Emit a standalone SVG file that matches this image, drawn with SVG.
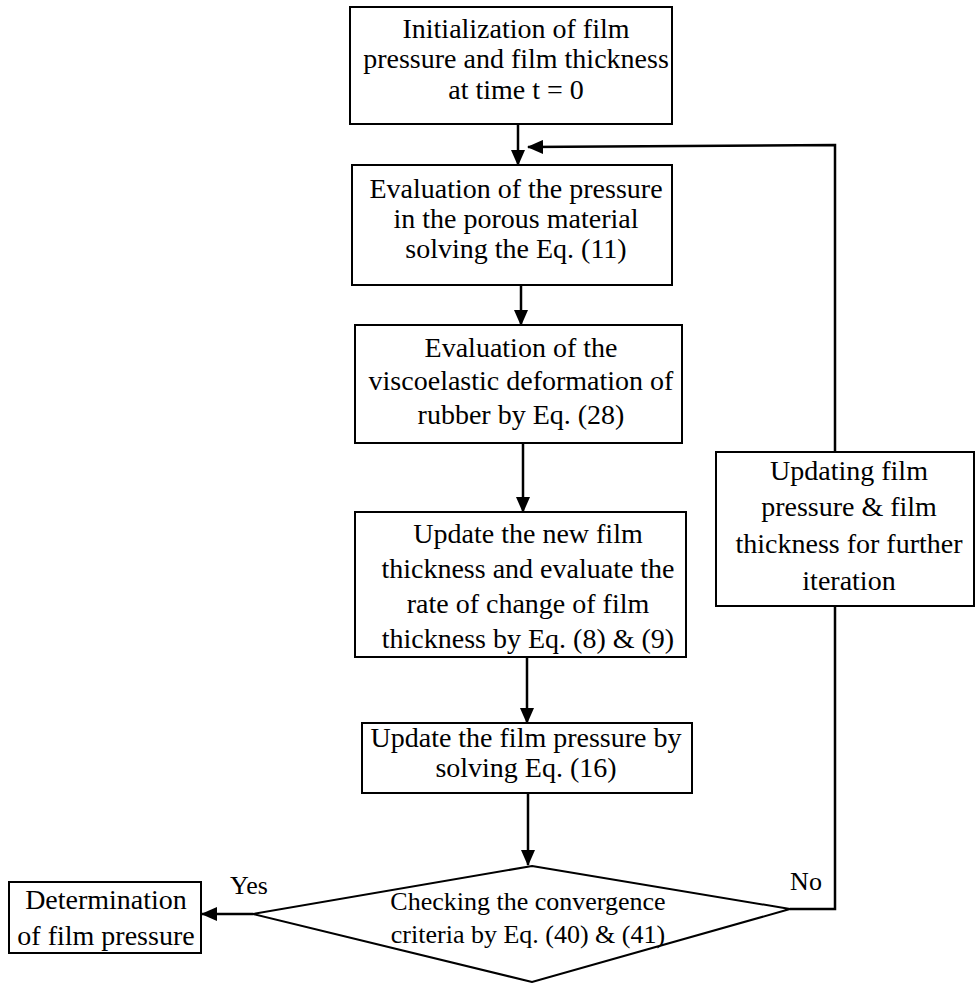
<svg xmlns="http://www.w3.org/2000/svg" width="975" height="983" viewBox="0 0 975 983">
<style>
  .box{fill:#fff;stroke:#000;stroke-width:2}
  .t{font-family:"Liberation Serif","Times New Roman",serif;font-size:28px;fill:#000;text-anchor:middle}
  .s{font-family:"Liberation Serif","Times New Roman",serif;font-size:26px;fill:#000;text-anchor:middle}
  .c{fill:none;stroke:#000;stroke-width:2.5}
</style>
<defs>
  <marker id="ah" viewBox="0 0 16 14" refX="15" refY="7" markerWidth="16" markerHeight="14" markerUnits="userSpaceOnUse" orient="auto">
    <path d="M0,0 L16,7 L0,14 z" fill="#000"/>
  </marker>
</defs>
<rect width="975" height="983" fill="#fff"/>
<g id="connectors">
  <line class="c" x1="518" y1="124" x2="518" y2="165" marker-end="url(#ah)"/>
  <line class="c" x1="521" y1="285" x2="521" y2="325" marker-end="url(#ah)"/>
  <line class="c" x1="523" y1="443" x2="523" y2="512" marker-end="url(#ah)"/>
  <line class="c" x1="527" y1="657" x2="527" y2="723" marker-end="url(#ah)"/>
  <line class="c" x1="528" y1="793" x2="528" y2="865" marker-end="url(#ah)"/>
  <line class="c" x1="253" y1="914" x2="202" y2="914" marker-end="url(#ah)"/>
  <polyline class="c" points="790,909 835,909 835,606"/>
  <polyline class="c" points="835,452 835,145 528,147" marker-end="url(#ah)"/>
</g>
<g id="n1">
  <rect class="box" x="350" y="7" width="322" height="117"/>
  <text class="t" x="516" y="38">Initialization of film</text>
  <text class="t" x="516" y="68">pressure and film thickness</text>
  <text class="t" x="516" y="99">at time t = 0</text>
</g>
<g id="n2">
  <rect class="box" x="352" y="165" width="320" height="120"/>
  <text class="t" x="516" y="198">Evaluation of the pressure</text>
  <text class="t" x="516" y="228">in the porous material</text>
  <text class="t" x="516" y="258">solving the Eq. (11)</text>
</g>
<g id="n3">
  <rect class="box" x="355" y="325" width="327" height="118"/>
  <text class="t" x="521" y="357">Evaluation of the</text>
  <text class="t" x="521" y="390">viscoelastic deformation of</text>
  <text class="t" x="521" y="424">rubber by Eq. (28)</text>
</g>
<g id="n4">
  <rect class="box" x="355" y="512" width="331" height="145"/>
  <text class="t" x="528" y="543">Update the new film</text>
  <text class="t" x="528" y="578">thickness and evaluate the</text>
  <text class="t" x="528" y="613">rate of change of film</text>
  <text class="t" x="528" y="648">thickness by Eq. (8) &amp; (9)</text>
</g>
<g id="n5">
  <rect class="box" x="362" y="723" width="330" height="70"/>
  <text class="t" x="526" y="747">Update the film pressure by</text>
  <text class="t" x="526" y="777">solving Eq. (16)</text>
</g>
<g id="n6">
  <rect class="box" x="716" y="452" width="258" height="154"/>
  <text class="t" x="849" y="480">Updating film</text>
  <text class="t" x="849" y="516">pressure &amp; film</text>
  <text class="t" x="849" y="553">thickness for further</text>
  <text class="t" x="849" y="590">iteration</text>
</g>
<g id="n7">
  <polygon class="box" points="532,866 790,909 532,982 253,914"/>
  <text class="s" x="528" y="910">Checking the convergence</text>
  <text class="s" x="528" y="943">criteria by Eq. (40) &amp; (41)</text>
</g>
<g id="n8">
  <rect class="box" x="9" y="882" width="192" height="71"/>
  <text class="t" x="106" y="909">Determination</text>
  <text class="t" x="106" y="945">of film pressure</text>
</g>
<g id="labels">
  <text class="s" x="249" y="894">Yes</text>
  <text class="s" x="806" y="890">No</text>
</g>
</svg>
